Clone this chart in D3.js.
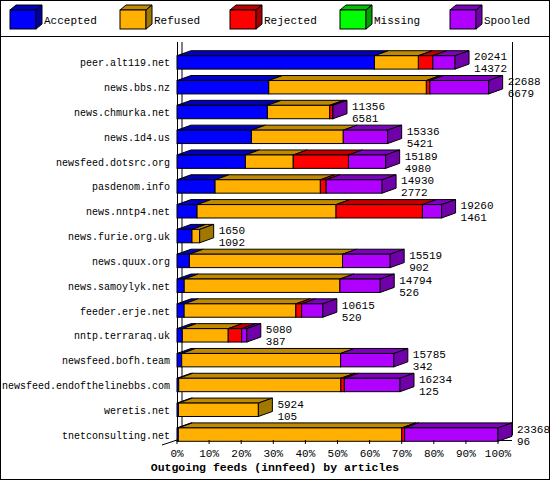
<!DOCTYPE html><html><head><meta charset="utf-8">
<script src="https://cdn.jsdelivr.net/npm/d3@7"></script>
<style>body{margin:0;background:#fff}</style></head><body><svg id="c" width="550" height="480"></svg>
<script>
const hosts=["peer.alt119.net","news.bbs.nz","news.chmurka.net","news.1d4.us","newsfeed.dotsrc.org","pasdenom.info","news.nntp4.net","news.furie.org.uk","news.quux.org","news.samoylyk.net","feeder.erje.net","nntp.terraraq.uk","newsfeed.bofh.team","newsfeed.endofthelinebbs.com","weretis.net","tnetconsulting.net"];
const totals=[20241,22688,11356,15336,15189,14930,19260,1650,15519,14794,10615,5080,15785,16234,5924,23368];
const accepted=[14372,6679,6581,5421,4980,2772,1461,1092,902,526,520,387,342,125,105,96];
const refused=[3200,11474,4533,6683,3482,7665,10118,558,11147,11334,8132,3342,11567,11801,5819,16264];
const rejected=[1050,257,210,0,4019,421,6286,0,0,0,421,981,0,257,0,210];
const missing=[0,0,0,0,0,0,0,0,0,0,0,0,0,0,0,0];
const spooled=[1619,4278,32,3232,2708,4072,1395,0,3470,2934,1542,370,3876,4051,0,6798];
const seriesNames=["Accepted","Refused","Rejected","Missing","Spooled"];
const xTicks=[0,10,20,30,40,50,60,70,80,90,100];
const front=["#0000ff","#ffb000","#ff0000","#00ff00","#b000ff"];
const top_=["#0000c0","#c08a00","#c00000","#00c000","#8000c0"];
const side=["#0000a0","#a07800","#a00000","#00a000","#7000a8"];
const svg=d3.select("#c");
const F="Liberation Mono, DejaVu Sans Mono, monospace";
svg.append("rect").attr("x",0.5).attr("y",0.5).attr("width",549).attr("height",479).attr("fill","#fff").attr("stroke","#000");
svg.append("line").attr("x1",0).attr("x2",550).attr("y1",36.5).attr("y2",36.5).attr("stroke","#000");
const dx=14,dy=5;
function box(g,x,y,w,h,i,drawSide){
  g.append("path").attr("d",`M${x},${y}L${x+dx},${y-dy}L${x+w+dx},${y-dy}L${x+w},${y}Z`).attr("fill",top_[i]).attr("stroke","#000").attr("stroke-width",1);
  g.append("rect").attr("x",x).attr("y",y).attr("width",w).attr("height",h).attr("fill",front[i]).attr("stroke","#000");
  if(drawSide) g.append("path").attr("d",`M${x+w},${y}L${x+w+dx},${y-dy}L${x+w+dx},${y+h-dy}L${x+w},${y+h}Z`).attr("fill",side[i]).attr("stroke","#000");
}
const lg=svg.append("g");
seriesNames.forEach((n,i)=>{
  const x=10+i*110;
  lg.append("path").attr("d",`M${x},${10}L${x+6},${5}L${x+32},${5}L${x+26},${10}Z`).attr("fill",top_[i]).attr("stroke","#000");
  lg.append("rect").attr("x",x).attr("y",10).attr("width",26).attr("height",19).attr("fill",front[i]).attr("stroke","#000");
  lg.append("path").attr("d",`M${x+26},10L${x+32},5L${x+32},24L${x+26},29Z`).attr("fill",side[i]).attr("stroke","#000");
  lg.append("text").attr("x",x+34).attr("y",24).text(n).attr("font-family",F).attr("font-size",11);
});
const maxT=d3.max(totals);
const x=d3.scaleLinear().domain([0,100]).range([177,498]);
const y=d3.scaleBand().domain(hosts).range([50,447]).paddingInner(0.46).paddingOuter(0.23);
svg.append("line").attr("x1",182).attr("x2",182).attr("y1",42).attr("y2",435).attr("stroke","#000");
svg.append("line").attr("x1",498+dx+0.5).attr("x2",498+dx+0.5).attr("y1",42).attr("y2",435).attr("stroke","#000");
svg.append("line").attr("x1",177.5).attr("x2",177.5).attr("y1",42).attr("y2",441).attr("stroke","#000");
svg.append("line").attr("x1",177).attr("x2",498+dx).attr("y1",440.5).attr("y2",440.5).attr("stroke","#000");
svg.append("line").attr("x1",162).attr("x2",177).attr("y1",445).attr("y2",440).attr("stroke","#000");
const g=svg.append("g");
hosts.forEach((h,r)=>{
  const vals=[accepted[r],refused[r],rejected[r],missing[r],spooled[r]];
  const y0=y(h), bh=y.bandwidth();
  let cum=0;
  const segs=[];
  vals.forEach((v,i)=>{ if(v>0){segs.push([cum,v,i]);} cum+=v;});
  segs.forEach(([c,v,i],k)=>{
    const xa=x(c/maxT*100), xb=x((c+v)/maxT*100);
    box(g,xa,y0,xb-xa,bh,i,k===segs.length-1);
  });
  g.append("text").attr("x",170).attr("y",y0+bh/2+4).attr("text-anchor","end").text(h).attr("font-family",F).attr("font-size",10);
  const xe=x(totals[r]/maxT*100)+dx+5;
  g.append("text").attr("x",xe).attr("y",y0+bh/2-2).text(totals[r]).attr("font-family",F).attr("font-size",11);
  g.append("text").attr("x",xe).attr("y",y0+bh/2+10).text(accepted[r]).attr("font-family",F).attr("font-size",11);
});
xTicks.forEach(t=>{
  svg.append("line").attr("x1",x(t)).attr("x2",x(t)).attr("y1",440).attr("y2",444).attr("stroke","#000");
  svg.append("text").attr("x",x(t)).attr("y",457).attr("text-anchor","middle").text(t+"%").attr("font-family",F).attr("font-size",11);
});
svg.append("text").attr("x",275).attr("y",471).attr("text-anchor","middle").text("Outgoing feeds (innfeed) by articles").attr("font-family",F).attr("font-size",11.5).attr("font-weight","bold");
</script></body></html>
